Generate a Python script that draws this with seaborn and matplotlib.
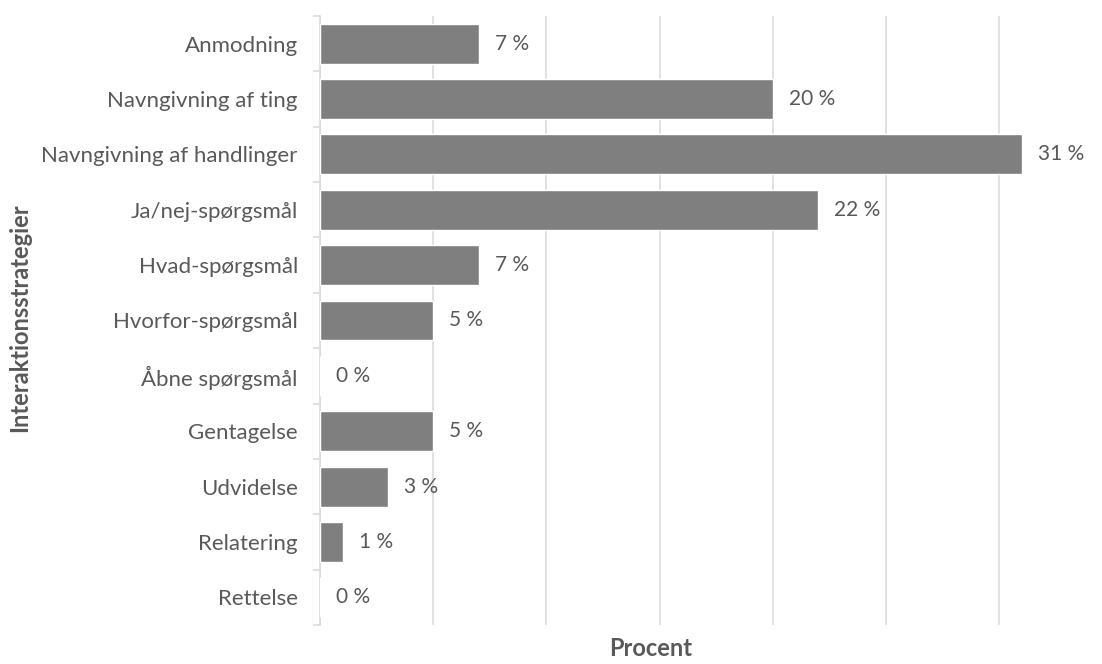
import seaborn as sns
import matplotlib.pyplot as plt
import pandas as pd

categories = ["Anmodning", "Navngivning af ting", "Navngivning af handlinger",
              "Ja/nej-spørgsmål", "Hvad-spørgsmål", "Hvorfor-spørgsmål",
              "Åbne spørgsmål", "Gentagelse", "Udvidelse", "Relatering", "Rettelse"]
values = [7, 20, 31, 22, 7, 5, 0, 5, 3, 1, 0]

df = pd.DataFrame({"strategi": categories, "procent": values})

sns.set_style("white")
plt.rcParams['font.family'] = ['Lato', 'DejaVu Sans']
txt = '#595959'

fig = plt.figure(figsize=(11.02, 6.64), dpi=100)
ax = fig.add_axes([320/1102, 39/664, 770/1102, 609/664])

sns.barplot(data=df, y="strategi", x="procent", orient="h", color="#7f7f7f",
            saturation=1, width=0.72, ax=ax, zorder=3)

ax.set_xlim(0, 34)
ax.set_ylim(len(categories) - 0.5, -0.5)
ax.set_xticks([0, 5, 10, 15, 20, 25, 30])
ax.set_xticklabels([])
ax.tick_params(axis='x', length=0)
ax.grid(axis='x', color='#d9d9d9', linewidth=1.1, zorder=0)

# tick marks between categories
ax.set_yticks([i + 0.5 for i in range(-1, len(categories))], minor=True)
ax.tick_params(axis='y', which='minor', left=True, length=5, color='#d9d9d9', width=1.1)
ax.tick_params(axis='y', which='major', length=0, pad=16, labelsize=16, labelcolor=txt)

for s in ['top', 'right', 'bottom']:
    ax.spines[s].set_visible(False)
ax.spines['left'].set_color('#d9d9d9')
ax.spines['left'].set_linewidth(1.1)

ax.bar_label(ax.containers[0], labels=[f"{v} %" for v in values], padding=11.5,
             fontsize=15, color=txt)

ax.set_xlabel("Procent", fontsize=17, fontweight='bold', color=txt)
ax.set_ylabel("Interaktionsstrategier", fontsize=17, fontweight='bold', color=txt)
ax.xaxis.set_label_coords(331/770, -24/609)
ax.yaxis.set_label_coords(-300/770, 0.505)
ax.xaxis.label.set_va('center')
ax.yaxis.label.set_va('center')

fig.savefig("out.png", dpi=100)
